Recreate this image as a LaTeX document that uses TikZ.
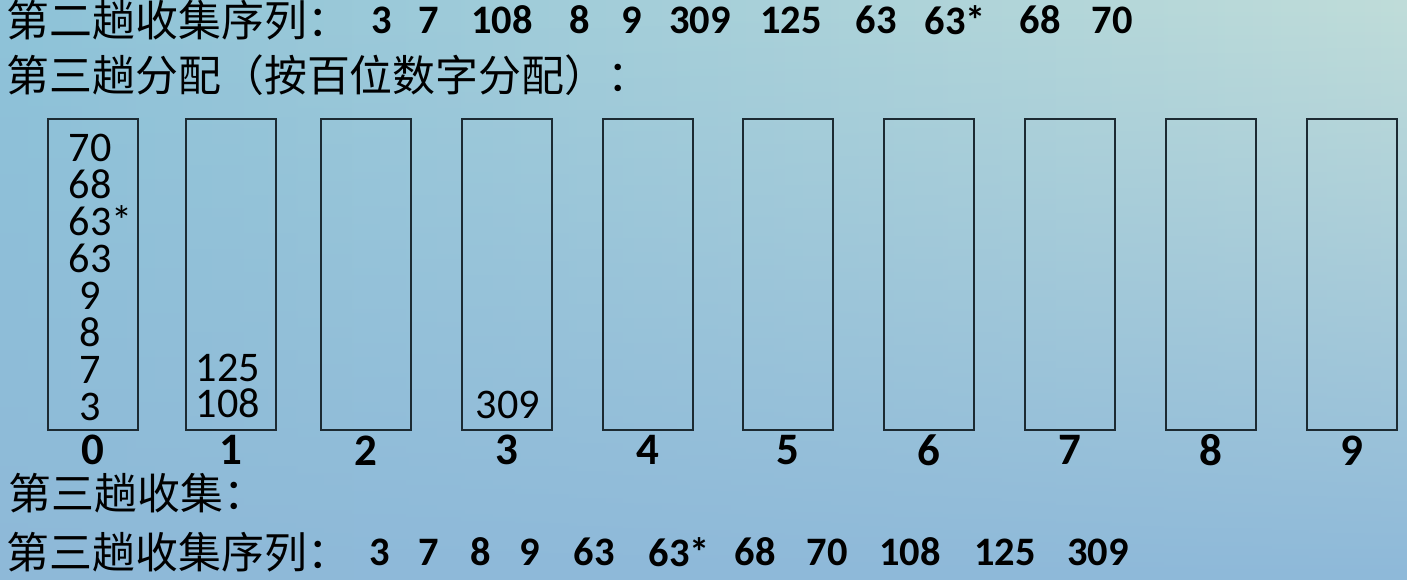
\documentclass[tikz,border=0pt]{standalone}
\usepackage{fontspec}
\setmainfont{Carlito}
\newfontfamily\cjk{Noto Sans CJK SC}
\usetikzlibrary{fadings}
\definecolor{bgleft}{HTML}{8EC3D8}
\definecolor{bgright}{HTML}{C0DDDA}
\definecolor{bgbottom}{HTML}{8EB9D9}
\definecolor{binline}{HTML}{1C2A32}

\begin{document}
\begin{tikzpicture}[x=0.01cm,y=-0.01cm,
    title/.style={font=\cjk\fontsize{12.2}{14}\selectfont,anchor=west,inner sep=0pt},
    seq/.style={font=\fontsize{11.5}{12}\selectfont\bfseries,inner sep=0pt},
    bin/.style={draw=binline,line width=0.6pt,minimum width=0.9cm,minimum height=3.11cm,inner sep=0pt,anchor=north west},
    binlabel/.style={font=\fontsize{12.8}{13}\selectfont\bfseries,inner sep=0pt},
    item/.style={font=\fontsize{12}{13}\selectfont,inner sep=0pt,text height=7.2pt,text depth=0pt}]
    \useasboundingbox (0,0) rectangle (1407,580);
    \shade[left color=bgleft,right color=bgright] (0,0) rectangle (1407,580);
    \fill[bgbottom,path fading=north] (0,0) rectangle (1407,580);

    \node[title] (pass2) at (6,20) {第二趟收集序列：};
    \foreach \v/\x [count=\k] in {3/382,7/429,108/502,8/580,9/632,309/700,125/791,63/876,{63\rlap{*}}/945,68/1040,70/1112}
        \node[seq] (top\k) at (\x,20) {\v};
    \node[title] (deal3) at (6,75) {第三趟分配（按百位数字分配）：};

    \foreach \i/\x in {0/47,1/185,2/320,3/461,4/602,5/742,6/883,7/1024,8/1165,9/1306}{
        \node[bin] (bin\i) at (\x,118) {};
        \node[binlabel] (lab\i) at ([yshift=-0.19cm]bin\i.south) {\i};
    }
    \foreach \v [count=\k] in {3,7,8,9,63,{63\rlap{*}},68,70}
        \node[item] (b0n\k) at (90,445-37*\k) {\v};
    \node[item] (b1n1) at (228,405) {108};
    \node[item] (b1n2) at (228,369) {125};
    \node[item] (b3n1) at (508,406) {309};

    \node[title] (coll3) at (8,493) {第三趟收集：};
    \node[title] (pass3) at (6,552) {第三趟收集序列：};
    \foreach \v/\x [count=\k] in {3/380,7/429,8/481,9/530,63/594,{63\rlap{*}}/669,68/755,70/827,108/910,125/1005,309/1098}
        \node[seq] (bot\k) at (\x,552) {\v};
\end{tikzpicture}
\end{document}
